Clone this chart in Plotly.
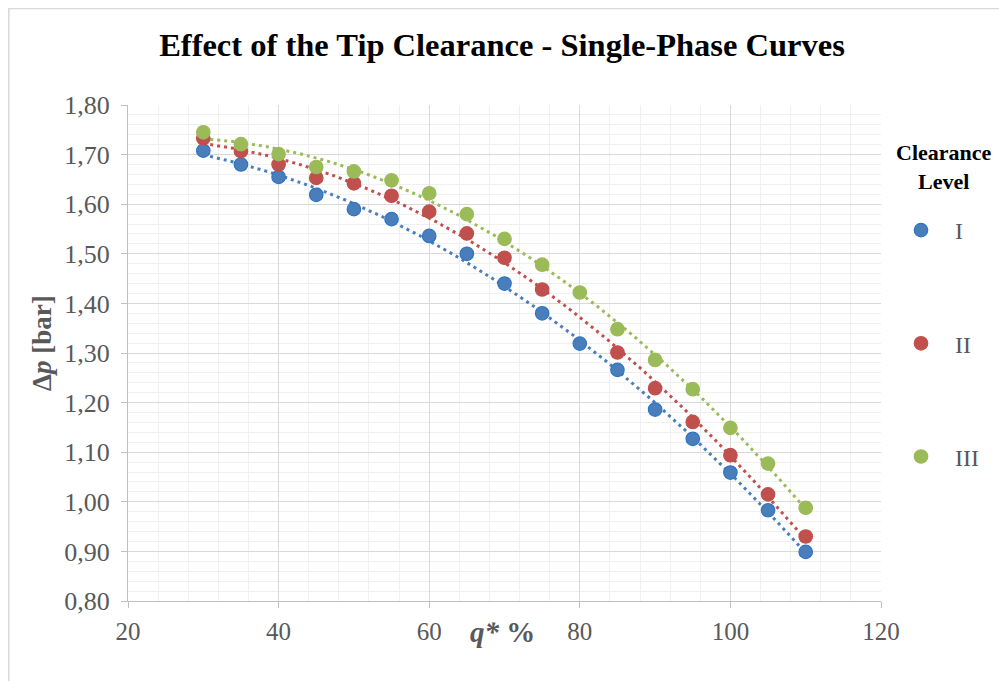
import numpy as np
import plotly.graph_objects as go

# ---- data ----
q_percent = [30, 35, 40, 45, 50, 55, 60, 65, 70, 75, 80, 85, 90, 95, 100, 105, 110]
level_I = [1.708, 1.680, 1.655, 1.619, 1.590, 1.570, 1.536, 1.500, 1.440, 1.380,
           1.319, 1.266, 1.186, 1.127, 1.059, 0.983, 0.899]
level_II = [1.733, 1.707, 1.680, 1.653, 1.642, 1.617, 1.585, 1.541, 1.492, 1.428,
            None, 1.301, 1.229, 1.161, 1.094, 1.015, 0.930]
level_III = [1.745, 1.721, 1.701, 1.675, 1.666, 1.648, 1.622, 1.580, 1.530, 1.478,
             1.422, 1.348, 1.286, 1.227, 1.149, 1.077, 0.988]
series_names = ["I", "II", "III"]
x_ticks = [20, 40, 60, 80, 100, 120]

FONT = "Liberation Serif"
GRAY = "#595959"
fill_colors = ["#4A7EBB", "#C0504D", "#9BBB59"]
edge_colors = ["#2E75C6", "#C0504D", "#9BBB59"]

fig = go.Figure()

# trendlines (2nd-order polynomial fit, as in the original spreadsheet chart)
for vals, col in zip([level_I, level_II, level_III], fill_colors):
    xs = np.array([x for x, v in zip(q_percent, vals) if v is not None], float)
    ys = np.array([v for v in vals if v is not None], float)
    coef = np.polyfit(xs, ys, 2)
    xx = np.linspace(xs.min(), xs.max(), 200)
    fig.add_trace(go.Scatter(x=xx, y=np.polyval(coef, xx), mode="lines",
                             line=dict(color=col, width=3, dash="3px,4px"),
                             showlegend=False, hoverinfo="skip"))

for i, (vals, name) in enumerate(zip([level_I, level_II, level_III], series_names)):
    fig.add_trace(go.Scatter(x=q_percent, y=vals, mode="markers", name=name,
                             legendgroup=name,
                             marker=dict(size=13.5, color=fill_colors[i],
                                         line=dict(color=edge_colors[i], width=1.2))))

OFF = 8  # page body margin
W, H = 999, 673
ml, mt = 128 - OFF, 105 - OFF
mr = W - (881 - OFF)
mb = H - (601 - OFF)
pw, ph = W - ml - mr, H - mt - mb

def px(xp):
    return (xp - OFF - ml) / pw

def py(yp):
    return (H - mb - (yp - OFF)) / ph

fig.update_layout(
    width=W, height=H,
    margin=dict(l=ml, r=mr, t=mt, b=mb),
    paper_bgcolor="white", plot_bgcolor="white",
    separators=",.",
    font=dict(family=FONT, color=GRAY, size=25),
    title=dict(text="<b>Effect of the Tip Clearance - Single-Phase Curves</b>",
               x=px(502), xref="paper", xanchor="center",
               y=1 - (45 - OFF) / H, yanchor="middle",
               font=dict(family=FONT, size=32.5, color="black")),
    xaxis=dict(range=[20, 120], tickvals=x_ticks, showgrid=True,
               gridcolor="#D9D9D9", gridwidth=1.3,
               minor=dict(dtick=4, showgrid=True, gridcolor="#F0F0F0", gridwidth=1.3),
               showline=True, linecolor="#BFBFBF", linewidth=1.3,
               ticks="outside", ticklen=6, tickcolor="#BFBFBF",
               ticklabelstandoff=2,
               tickfont=dict(family=FONT, size=25, color=GRAY),
               zeroline=False),
    yaxis=dict(range=[0.8, 1.8], dtick=0.1, tickformat=".2f", showgrid=True,
               gridcolor="#D9D9D9", gridwidth=1.3,
               minor=dict(dtick=0.02, showgrid=True, gridcolor="#F0F0F0", gridwidth=1.3),
               showline=True, linecolor="#BFBFBF", linewidth=1.3,
               ticks="outside", ticklen=6, tickcolor="#BFBFBF",
               ticklabelstandoff=6,
               tickfont=dict(family=FONT, size=26, color=GRAY),
               zeroline=False),
    legend=dict(x=px(887), y=py(208), xanchor="left", yanchor="top",
                traceorder="grouped", tracegroupgap=79, itemwidth=58,
                font=dict(family=FONT, size=24, color=GRAY)),
    showlegend=True,
)

# legend heading
fig.add_annotation(text="<b>Clearance<br>Level</b>", xref="paper", yref="paper",
                   x=px(943.5), y=py(167), showarrow=False, align="center",
                   xanchor="center", yanchor="middle",
                   font=dict(family=FONT, size=22, color="black"))

fig.add_annotation(text="<b>Δ<i>p</i> [bar]</b>", xref="paper", yref="paper",
                   x=px(42), y=py(343), textangle=-90, showarrow=False,
                   xanchor="center", yanchor="middle",
                   font=dict(family=FONT, size=27, color=GRAY))
fig.add_annotation(text="<b><i>q*</i> %</b>", xref="paper", yref="paper",
                   x=px(502), y=py(632), showarrow=False,
                   xanchor="center", yanchor="middle",
                   font=dict(family=FONT, size=29, color=GRAY))

# chart frame
fig.add_shape(type="rect", xref="paper", yref="paper",
              x0=px(8.8), y0=py(720), x1=px(1040), y1=py(8.5),
              line=dict(color="#D9D9D9", width=1.5), fillcolor="rgba(0,0,0,0)",
              layer="below")

fig.write_html("out.html")
